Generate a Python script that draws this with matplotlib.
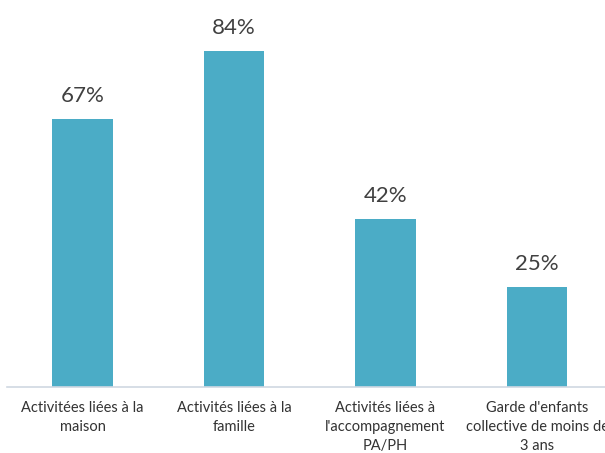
import matplotlib.pyplot as plt
import numpy as np

categories = ["Activitées liées à la\nmaison",
              "Activités liées à la\nfamille",
              "Activités liées à\nl'accompagnement\nPA/PH",
              "Garde d'enfants\ncollective de moins de\n3 ans"]
values = [67, 84, 42, 25]
labels = ["67%", "84%", "42%", "25%"]

plt.rcParams['font.family'] = ['Lato', 'DejaVu Sans']

fig = plt.figure(figsize=(6.05, 4.53), dpi=100)
ax = fig.add_axes([6.75 / 605, 66 / 453, 606 / 605, 360 / 453])

x = np.arange(len(categories))
bars = ax.bar(x, values, width=0.4, color="#4BACC6")

for xi, v, lab in zip(x, values, labels):
    ax.annotate(lab, (xi, v), xytext=(0, 17), textcoords="offset pixels",
                ha="center", va="baseline", fontsize=16, color="#404040")

ax.set_xlim(-0.5, 3.5)
ax.set_ylim(0, 90)
ax.set_xticks(x)
ax.set_xticklabels(categories, fontsize=10.5, color="#333333", linespacing=1.45)
ax.tick_params(axis="x", length=0, pad=10)
ax.set_yticks([])
for s in ["top", "right", "left"]:
    ax.spines[s].set_visible(False)
ax.spines["bottom"].set_color("#D0D8E2")
ax.spines["bottom"].set_linewidth(1.2)

fig.savefig("out.png", dpi=100)
